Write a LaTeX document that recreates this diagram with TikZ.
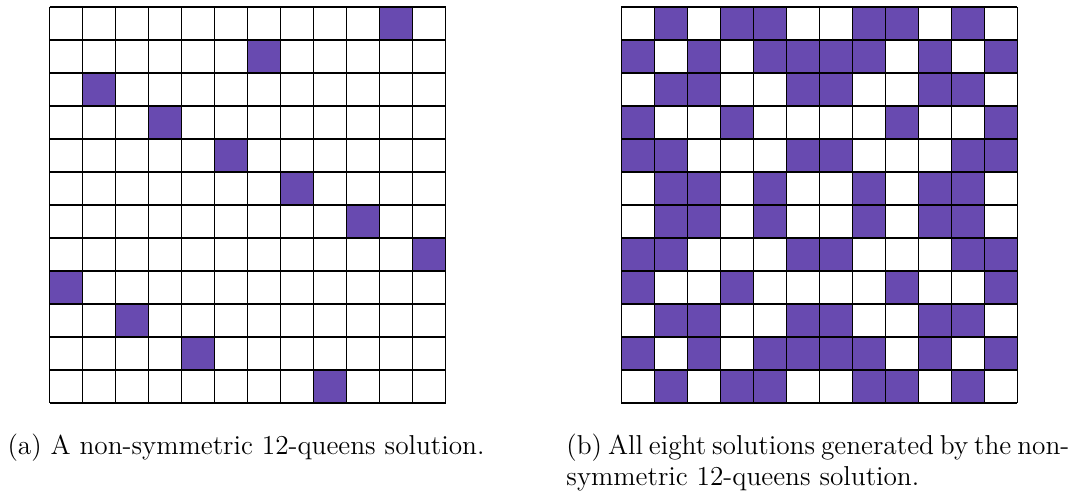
\documentclass[tikz,border=0pt]{standalone}
\usepackage{tikz}
\definecolor{queen}{RGB}{104,74,176}
\tikzset{
  cellfill/.style={fill=queen},
  gridline/.style={draw=black, line width=0.6pt},
  captext/.style={font=\fontsize{12.3}{14.9}\selectfont, inner sep=0pt, anchor=base west}
}
\begin{document}
\begin{tikzpicture}[x=0.45pt,y=-0.45pt]
\useasboundingbox (0,0) rectangle (1075,496);
\def\cs{33}
% left grid: single solution
\def\xa{49.7}
\def\xb{621.3}
\def\yt{7}
\foreach \r/\c in {0/10,1/6,2/1,3/3,4/5,5/7,6/9,7/11,8/0,9/2,10/4,11/8}{
  \fill[cellfill] (\xa+\cs*\c,\yt+\cs*\r) rectangle ++(\cs,\cs);
}
% right grid: all eight symmetric images
\foreach \r/\c in {0/10,1/6,2/1,3/3,4/5,5/7,6/9,7/11,8/0,9/2,10/4,11/8}{
  \pgfmathtruncatemacro{\rr}{11-\r}
  \pgfmathtruncatemacro{\cc}{11-\c}
  \foreach \i/\j in {\r/\c,\r/\cc,\rr/\c,\rr/\cc,\c/\r,\c/\rr,\cc/\r,\cc/\rr}{
    \fill[cellfill] (\xb+\cs*\j,\yt+\cs*\i) rectangle ++(\cs,\cs);
  }
}
% grid lines
\foreach \x in {\xa,\xb}{
  \foreach \k in {0,...,12}{
    \draw[gridline] (\x+\cs*\k,\yt) -- (\x+\cs*\k,\yt+\cs*12);
    \draw[gridline] (\x,\yt+\cs*\k) -- (\x+\cs*12,\yt+\cs*\k);
  }
}
% captions
\node[captext, anchor=base] (capa) at (246,455) {(a) A non-symmetric 12-queens solution.};
\node[captext] (capb1) at (566,455) {\makebox[225pt][s]{(b) All eight solutions generated by the non-}};
\node[captext] (capb2) at (566,486) {symmetric 12-queens solution.};
\end{tikzpicture}
\end{document}
